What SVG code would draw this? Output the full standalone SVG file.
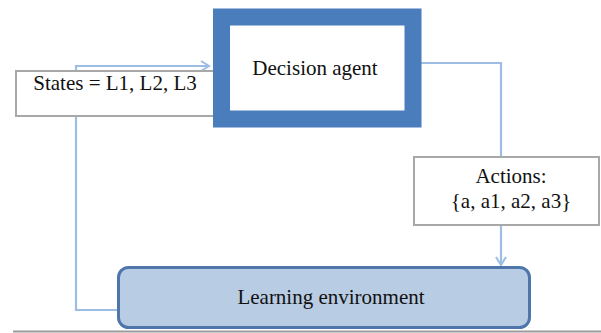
<svg xmlns="http://www.w3.org/2000/svg" width="601" height="333" viewBox="0 0 601 333">
<style>
text{font-family:"Liberation Serif","Times New Roman",serif;font-size:21px;fill:#111;text-anchor:middle}
.conn{fill:none;stroke:#9dbde2;stroke-width:2.2}
.lbl{fill:#fff;stroke:#a8a8a8;stroke-width:2}
</style>
<defs>
<marker id="arr" viewBox="0 0 12 12" refX="10" refY="6" markerWidth="12" markerHeight="12" markerUnits="userSpaceOnUse" orient="auto">
<path d="M2,1 L10,6 L2,11" fill="none" stroke="#9dbde2" stroke-width="2"/>
</marker>
</defs>
<rect width="601" height="333" fill="#fff"/>
<line x1="13" y1="331.5" x2="601" y2="331.5" stroke="#9a9a9a" stroke-width="2"/>
<g id="connectors">
<polyline class="conn" points="118,310 76,310 76,66 209,66" marker-end="url(#arr)"/>
<polyline class="conn" points="421,63 501,63 501,265" marker-end="url(#arr)"/>
</g>
<g id="states">
<rect class="lbl" x="16" y="71" width="198" height="45"/>
<text x="115" y="90">States = L1, L2, L3</text>
</g>
<g id="agent">
<rect x="221.5" y="17" width="191.5" height="102" fill="#fff" stroke="#4a7dbb" stroke-width="17"/>
<text x="315" y="75">Decision agent</text>
</g>
<g id="actions">
<rect class="lbl" x="414" y="157" width="185" height="68"/>
<text x="511" y="183">Actions:</text>
<text x="511" y="208">{a, a1, a2, a3}</text>
</g>
<g id="environment">
<rect x="118.5" y="267.5" width="411" height="60" rx="10" fill="#b8cce4" stroke="#4f76aa" stroke-width="3"/>
<text x="331" y="304">Learning environment</text>
</g>
</svg>
